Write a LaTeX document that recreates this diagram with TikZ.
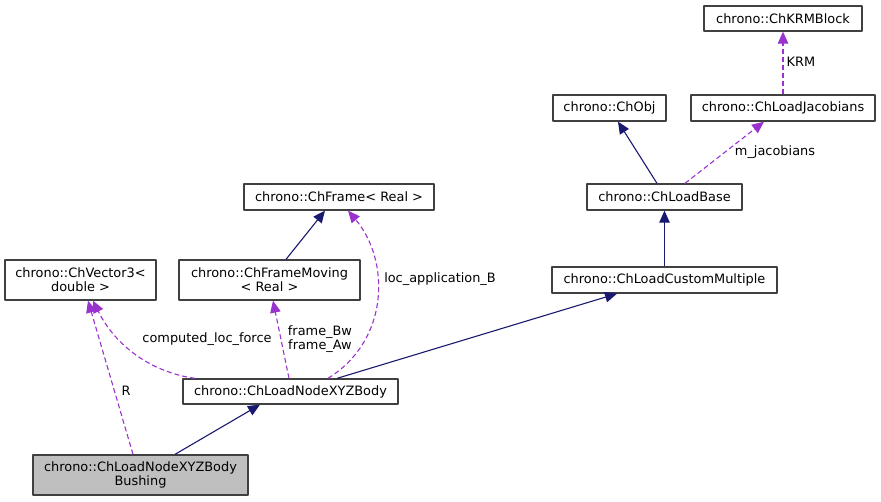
\documentclass[tikz,border=0pt]{standalone}
\usepackage{fontspec}
\setmainfont{DejaVu Sans}
\usetikzlibrary{arrows.meta}

\definecolor{edgeblue}{RGB}{25,25,112}
\definecolor{edgepurple}{RGB}{154,50,205}
\definecolor{boxline}{RGB}{64,64,64}
\definecolor{boxgray}{RGB}{191,191,191}

\begin{document}
\begin{tikzpicture}[
    x = 1pt, y = -1pt,
    line join=round,
    font = \fontsize{12.9}{14.3}\selectfont,
    box/.style = {draw=boxline, line width=1.3pt, fill=white, inner sep=0pt, align=center},
    inherit/.style = {edgeblue, line width=1.1pt, -{Triangle[length=12pt, width=10.5pt]}},
    usage/.style = {edgepurple, line width=1.1pt, dash pattern=on 5pt off 3pt, -{Triangle[length=12pt, width=10.5pt]}},
    lbl/.style = {inner sep=0pt, align=center}
]

    \useasboundingbox (0,0) rectangle (881,501);

    % classes, top to bottom

    \node[box, minimum width=158pt, minimum height=25pt] (krm) at (783, 18.5) {chrono::ChKRMBlock};
    \node[box, minimum width=113pt, minimum height=26pt] (obj) at (609.5, 108) {chrono::ChObj};
    \node[box, minimum width=184pt, minimum height=26pt] (jac) at (783, 108) {chrono::ChLoadJacobians};
    \node[box, minimum width=155pt, minimum height=26pt] (base) at (664.5, 197) {chrono::ChLoadBase};
    \node[box, minimum width=190pt, minimum height=26pt] (frame) at (339, 197) {chrono::ChFrame< Real >};
    \node[box, minimum width=225pt, minimum height=26pt] (custom) at (664.5, 280) {chrono::ChLoadCustomMultiple};
    \node[box, minimum width=181pt, minimum height=40pt] (moving) at (269.5, 280) {chrono::ChFrameMoving\\< Real >};
    \node[box, minimum width=151pt, minimum height=40pt] (vec) at (80.5, 280) {chrono::ChVector3<\\double >};
    \node[box, minimum width=215pt, minimum height=25pt] (xyz) at (290.5, 391.5) {chrono::ChLoadNodeXYZBody};
    \node[box, fill=boxgray, minimum width=215pt, minimum height=40pt] (bush) at (140.5, 475) {chrono::ChLoadNodeXYZBody\\Bushing};

    \draw[inherit] ([xshift=34.5pt]bush.north) -- ([xshift=-30.5pt]xyz.south);
    \draw[usage] ([xshift=-7.5pt]bush.north) -- ([xshift=7.5pt]vec.south);
    \draw[usage] ([xshift=-95.5pt]xyz.north) .. controls (150,372) and (115,345) .. ([xshift=12.5pt]vec.south);
    \draw[usage] ([xshift=-1.5pt]xyz.north) -- ([xshift=3.5pt]moving.south);
    \draw[usage] ([xshift=37.5pt]xyz.north) .. controls (390,340) and (390,260) .. ([xshift=9pt]frame.south);
    \draw[inherit] ([xshift=46.5pt]xyz.north) -- ([xshift=-47.5pt]custom.south);
    \draw[inherit] ([xshift=16.5pt]moving.north) -- ([xshift=-14pt]frame.south);
    \draw[inherit] (custom) -- (base);
    \draw[inherit] ([xshift=-7.5pt]base.north) -- ([xshift=8.5pt]obj.south);
    \draw[usage] ([xshift=20.5pt]base.north) -- ([xshift=-19pt]jac.south);
    \draw[usage] (jac) -- (krm);

    % member names
    \node[lbl] (lR) at (126, 391) {R};
    \node[lbl] (lforce) at (207, 339) {computed\_loc\_force};
    \node[lbl] (lframes) at (320, 339) {frame\_Bw\\frame\_Aw};
    \node[lbl] (lloc) at (440, 279) {loc\_application\_B};
    \node[lbl] (ljac) at (775, 152) {m\_jacobians};
    \node[lbl] (lkrm) at (801, 62) {KRM};

\end{tikzpicture}
\end{document}
